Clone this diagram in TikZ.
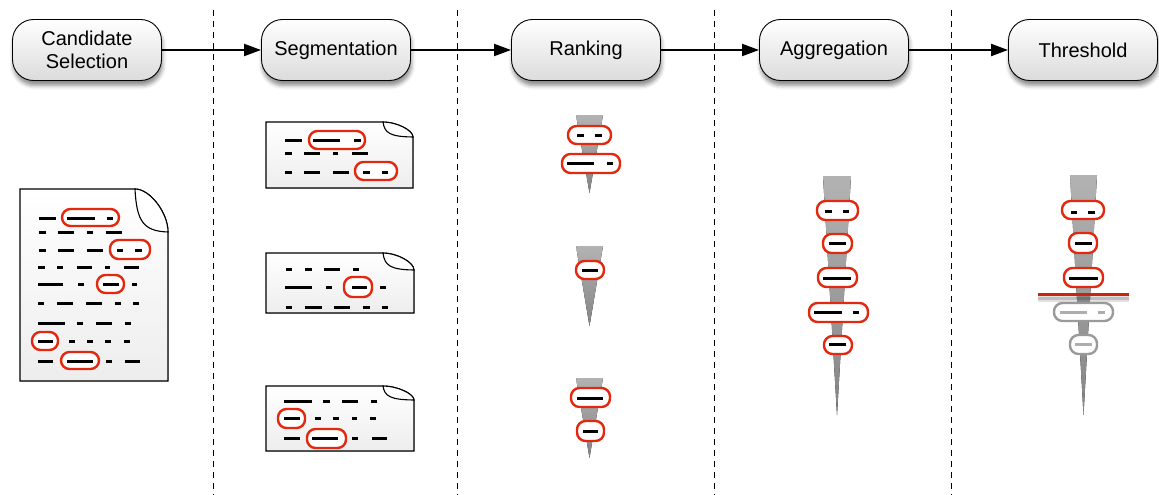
\documentclass[tikz,border=0pt]{standalone}
\usepackage{fontspec}
\setmainfont{Liberation Sans}
\usetikzlibrary{arrows.meta,shadows.blur}
\definecolor{pillred}{HTML}{E2290F}
\definecolor{ghost}{HTML}{9A9A9A}

% rounded highlight around a run of words
\newcommand\pill[4]{\draw[pill] (#1,#2) rectangle (#3,#4);}
\newcommand\ghostpill[4]{\draw[ghostpill] (#1,#2) rectangle (#3,#4);}
% one line of words: y, then list of x-start/x-end pairs
\newcommand\words[2]{\foreach \a/\b in {#2} \draw[word] (\a,#1) -- (\b,#1);}
\newcommand\ghostwords[2]{\foreach \a/\b in {#2} \draw[ghostword] (\a,#1) -- (\b,#1);}
% sheet of paper with a folded corner: x1 y1 x2 y2 foldx foldy
\newcommand\paper[6]{%
  \filldraw[doc] (#1,#2) -- (#5,#2)
    .. controls ({#5+0.45*(#3-#5)},#2) and (#3,{#6-0.45*(#6-#2)}) .. (#3,#6)
    -- (#3,#4) -- (#1,#4) -- cycle;
  \filldraw[flap] (#5,#2)
    .. controls ({#5+0.05*(#3-#5)},{#6-0.25*(#6-#2)}) and ({#5+0.25*(#3-#5)},{#6-0.02*(#6-#2)}) .. (#3,#6)
    .. controls (#3,{#6-0.45*(#6-#2)}) and ({#5+0.45*(#3-#5)},#2) .. (#5,#2) -- cycle;
}
% ranked list spike: centre x, half width at top, top y, tip y
\newcommand\spike[4]{\fill[spikefill] ({#1-#2},#3) -- ({#1+#2},#3) -- (#1,#4) -- cycle;}

\begin{document}
\begin{tikzpicture}[x=1pt,y=-1pt,
  stage/.style={draw=black, line width=0.9pt, rounded corners=21pt,
    minimum width=149pt, minimum height=61pt, inner sep=0pt,
    top color=white, bottom color=black!14, align=center,
    font=\fontsize{20}{23}\selectfont,
    blur shadow={shadow xshift=1pt, shadow yshift=-5pt, shadow blur radius=4pt, shadow opacity=45}},
  flow/.style={line width=2pt, -{Triangle[length=17pt,width=12pt]}},
  sep/.style={line width=0.9pt, dash pattern=on 6pt off 5pt},
  doc/.style={draw=black, line width=1.1pt, top color=white, bottom color=black!7},
  flap/.style={draw=black, line width=1.1pt, fill=white},
  word/.style={line width=3pt, black},
  ghostword/.style={line width=3pt, ghost!80},
  pill/.style={draw=pillred, line width=2.4pt, fill=white, rounded corners=8.5pt},
  ghostpill/.style={draw=ghost, line width=2.4pt, fill=white, rounded corners=8.5pt},
  spikefill/.style={top color=black!30, bottom color=black!48}]

\useasboundingbox (0,0) rectangle (1159,495);

% ---- column separators
\foreach \x in {213,457,714,951}
  \draw[sep] (\x,10) -- (\x,495);

% ---- pipeline stages
\node[stage] (cand) at (87,50)   {Candidate\\Selection};
\node[stage] (seg)  at (336,50)  {Segmentation};
\node[stage] (rank) at (586,50)  {Ranking};
\node[stage] (agg)  at (834,50)  {Aggregation};
\node[stage] (thr)  at (1083,50) {Threshold};

\draw[flow] (cand) -- (seg);
\draw[flow] (seg)  -- (rank);
\draw[flow] (rank) -- (agg);
\draw[flow] (agg)  -- (thr);

% ---- full document with candidate passages
\paper{20}{189}{168}{381}{135}{232}
\pill{62}{209}{119}{226}
\pill{110}{240}{150}{259}
\pill{97}{275}{124}{293}
\pill{32}{332}{58}{350}
\pill{61}{352}{99}{369}
\words{218}{39/56,67/95,107/113}
\words{232}{39/46,58/74,87/93,106/122}
\words{250}{39/46,58/74,87/103,117/123,135/142}
\words{267}{38/45,57/63,77/92,105/110,124/139}
\words{284}{38/63,78/84,103/119,132/137}
\words{303}{38/44,57/73,86/102,115/121,133/139}
\words{323}{38/65,77/83,96/112,125/131}
\words{341}{38/53,69/75,87/93,105/111,124/130}
\words{361}{38/53,67/93,106/112,125/140}

% ---- segmented documents
\paper{266}{122}{413}{188}{383}{137}
\pill{309}{131}{365}{149}
\pill{355}{162}{397}{180}
\words{140}{285/302,313/340,354/361}
\words{153}{285/292,304/320,333/338,352/368}
\words{172}{285/292,304/320,333/349,363/370,382/388}

\paper{266}{253}{414}{313}{383}{270}
\pill{344}{277}{372}{297}
\words{269}{286/292,305/312,324/340,353/359}
\words{287}{285/312,326/332,352/367,380/386}
\words{307}{286/292,305/322,334/350,363/370,382/388}

\paper{266}{386}{414}{451}{383}{400}
\pill{278}{409}{305}{428}
\pill{307}{429}{346}{448}
\words{401}{284/312,323/330,342/358,371/377}
\words{418}{284/300,315/321,333/339,352/357,370/376}
\words{438}{284/300,312/338,352/358,372/387}

% ---- ranked segments per document
\spike{589.5}{13.5}{115}{193}
\pill{568}{126}{611}{144}
\words{135}{577/584,595/602}
\pill{562}{154}{620}{173}
\words{163}{567/594,607/613}

\spike{589.5}{13.5}{246}{326}
\pill{576}{261}{604}{279}
\words{270}{582/598}

\spike{589.5}{13.5}{378}{458}
\pill{571}{388}{610}{407}
\words{398}{577/603}
\pill{577}{421}{604}{441}
\words{431}{583/598}

% ---- aggregated ranking
\spike{837}{14}{176}{415}
\pill{817}{201}{858}{220}
\words{211}{825/832,843/849}
\pill{823}{234}{852}{253}
\words{243}{829/846}
\pill{818}{268}{857}{287}
\words{278}{823/851}
\pill{809}{303}{868}{322}
\words{312}{814/842,853/859}
\pill{824}{336}{852}{354}
\words{344}{829/846}

% ---- thresholded ranking
\spike{1083.5}{13.5}{175}{415}
\pill{1062}{201}{1104}{219}
\words{212}{1071/1077,1088/1095}
\pill{1069}{233}{1097}{253}
\words{243}{1075/1092}
\pill{1064}{268}{1103}{287}
\words{278}{1069/1098}
\ghostpill{1054}{303}{1113}{321}
\ghostwords{312}{1060/1087,1098/1105}
\ghostpill{1070}{335}{1097}{354}
\ghostwords{344}{1075/1092}
\coordinate (cutL) at (1038,294);
\coordinate (cutR) at (1129,294);
\draw[black, opacity=0.12, line width=7pt] ([yshift=-4pt]cutL) -- ([yshift=-4pt]cutR);
\draw[black, opacity=0.15, line width=3pt] ([yshift=-4pt]cutL) -- ([yshift=-4pt]cutR);
\draw[pillred!90!black, line width=3pt] (cutL) -- (cutR);
\end{tikzpicture}
\end{document}
